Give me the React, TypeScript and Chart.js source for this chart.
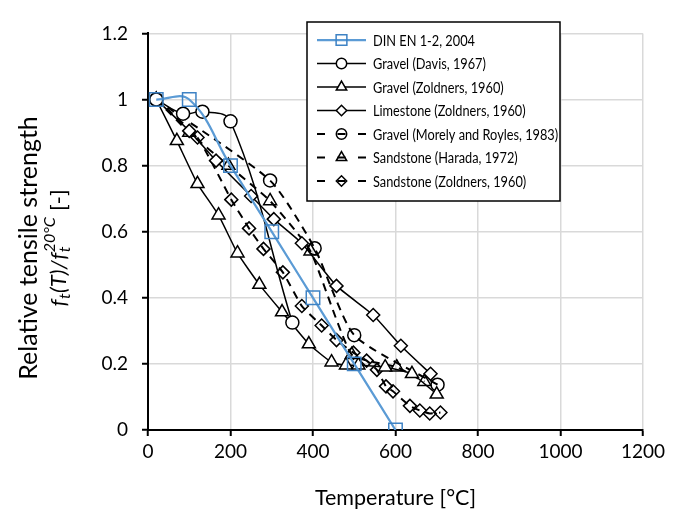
import React, { useEffect, useRef } from 'react';
import { Chart, registerables } from 'chart.js';
import { drawPoint } from 'chart.js/helpers';

Chart.register(...registerables);

const FONT = "Lato, 'Open Sans', sans-serif";

// ---- axes ----
const xTicks = [0, 200, 400, 600, 800, 1000, 1200];
const yTicks = [0, 0.2, 0.4, 0.6, 0.8, 1, 1.2];

// ---- series ----
const dinTemp = [20, 100, 200, 300, 400, 500, 600];
const dinVal = [1, 1, 0.8, 0.6, 0.4, 0.2, 0];

const davisTemp = [20, 85, 132, 200, 350];
const davisVal = [1, 0.957, 0.963, 0.934, 0.325];

const gravelZolTemp = [20, 70, 120, 171, 217, 270, 325, 390, 445, 480, 510, 575, 640, 700];
const gravelZolVal = [1, 0.875, 0.745, 0.65, 0.535, 0.44, 0.357, 0.26, 0.205, 0.196, 0.196, 0.19, 0.17, 0.108];

const limeTemp = [20, 100, 165, 250, 305, 373, 457, 546, 613, 685];
const limeVal = [1, 0.905, 0.815, 0.708, 0.638, 0.565, 0.436, 0.348, 0.255, 0.17];

const morelyTemp = [20, 296, 404, 500, 702];
const morelyVal = [1, 0.755, 0.55, 0.287, 0.137];

const haradaTemp = [20, 100, 195, 296, 394, 494, 603, 670];
const haradaVal = [1, 0.9, 0.8, 0.693, 0.541, 0.228, 0.19, 0.146];

const sandZolTemp = [20, 120, 202, 245, 280, 327, 373, 421, 457, 498, 530, 555, 577, 594, 635, 659, 683, 709];
const sandZolVal = [1, 0.885, 0.697, 0.61, 0.548, 0.477, 0.375, 0.316, 0.272, 0.234, 0.21, 0.182, 0.132, 0.117, 0.073, 0.059, 0.05, 0.053];

const labels = [
  'DIN EN 1-2, 2004',
  'Gravel (Davis, 1967)',
  'Gravel (Zoldners, 1960)',
  'Limestone (Zoldners, 1960)',
  'Gravel (Morely and Royles, 1983)',
  'Sandstone (Harada, 1972)',
  'Sandstone (Zoldners, 1960)',
];

const pts = (xs: number[], ys: number[]) => xs.map((x, i) => ({ x, y: ys[i] }));

const BLUE = '#5B9BD5';
const BLUE_MK = '#3E82C4';
const DASH = [8, 6];

function blackSeries(label: string, data: any[], style: string, radius: number, dashed: boolean, tension: number) {
  return {
    label,
    data,
    showLine: true,
    borderColor: '#000',
    borderWidth: dashed ? 2 : 1.5,
    borderDash: dashed ? DASH : [],
    pointStyle: style,
    pointRadius: radius,
    pointHoverRadius: radius,
    pointBorderColor: '#000',
    pointBorderWidth: 1.5,
    pointBackgroundColor: dashed ? 'rgba(0,0,0,0)' : '#fff',
    tension,
  };
}

const legendPlugin = {
  id: 'boxLegend',
  afterDatasetsDraw(chart: any) {
    const { ctx } = chart;
    const bx = 299, by = 14, bw = 253, bh = 179;
    ctx.save();
    ctx.fillStyle = '#fff';
    ctx.fillRect(bx, by, bw, bh);
    ctx.strokeStyle = '#000';
    ctx.lineWidth = 1.5;
    ctx.strokeRect(bx, by, bw, bh);
    chart.data.datasets.forEach((ds: any, i: number) => {
      const cy = by + 18 + i * 23.5;
      const x1 = bx + 10, x2 = bx + 59, mx = bx + 34.5;
      ctx.save();
      ctx.strokeStyle = ds.borderColor;
      ctx.lineWidth = ds.borderWidth;
      if (ds.borderDash && ds.borderDash.length) {
        ctx.setLineDash([8, 12.5]);
      } else {
        ctx.setLineDash([]);
      }
      ctx.beginPath();
      ctx.moveTo(x1, cy);
      ctx.lineTo(x2, cy);
      ctx.stroke();
      ctx.setLineDash([]);
      ctx.strokeStyle = ds.pointBorderColor;
      ctx.fillStyle = ds.pointBackgroundColor;
      ctx.lineWidth = ds.pointBorderWidth;
      drawPoint(ctx, { pointStyle: ds.pointStyle, radius: ds.pointRadius * 0.8, rotation: 0, borderWidth: ds.pointBorderWidth }, mx, cy);
      ctx.restore();
      ctx.save();
      ctx.translate(bx + 66, cy + 1);
      ctx.scale(0.88, 1);
      ctx.fillStyle = '#000';
      ctx.font = `14.5px ${FONT}`;
      ctx.textBaseline = 'middle';
      ctx.textAlign = 'left';
      ctx.fillText(ds.label, 0, 0);
      ctx.restore();
    });
    ctx.restore();
  },
};

const yTitlePlugin = {
  id: 'yTitle',
  afterDraw(chart: any) {
    const { ctx } = chart;
    const cyMid = 240;
    ctx.save();
    // line 1
    ctx.translate(21, cyMid);
    ctx.rotate(-Math.PI / 2);
    ctx.fillStyle = '#000';
    ctx.textBaseline = 'middle';
    ctx.textAlign = 'center';
    ctx.font = `25px ${FONT}`;
    ctx.fillText('Relative tensile strength', 0, 0);
    ctx.restore();

    // line 2: rich text f_t(T)/f_t^{20°C} [-]
    const size = 22;
    const small = 16;
    const segs = [
      { t: 'f', it: true, sh: 0, adv: true, sz: size },
      { t: 't', it: true, sh: 6, adv: true, sz: small },
      { t: '(T)/', it: true, sh: 0, adv: true, sz: size },
      { t: 'f', it: true, sh: 0, adv: true, sz: size },
      { t: 't', it: true, sh: 6, adv: false, sz: small },
      { t: '20°C', it: true, sh: -9, adv: true, sz: small },
      { t: ' [-]', it: false, sh: 0, adv: true, sz: size },
    ];
    const fontOf = (s: any) => `${s.it ? 'italic ' : ''}${s.sz}px ${FONT}`;
    let total = 0;
    segs.forEach((s) => {
      ctx.font = fontOf(s);
      if (s.adv) total += ctx.measureText(s.t).width + (s.it ? 0.5 : 0);
    });
    ctx.save();
    ctx.translate(51, cyMid);
    ctx.rotate(-Math.PI / 2);
    ctx.fillStyle = '#000';
    ctx.textBaseline = 'middle';
    ctx.textAlign = 'left';
    let x = -total / 2;
    segs.forEach((s) => {
      ctx.font = fontOf(s);
      ctx.fillText(s.t, x, s.sh);
      if (s.adv) x += ctx.measureText(s.t).width + (s.it ? 0.5 : 0);
    });
    ctx.restore();
  },
};

export default function App() {
  const ref = useRef<HTMLCanvasElement | null>(null);
  useEffect(() => {
    if (!ref.current) return;
    const datasets: any[] = [
      {
        label: labels[0],
        data: pts(dinTemp, dinVal),
        showLine: true,
        borderColor: BLUE,
        borderWidth: 2.25,
        pointStyle: 'rect',
        pointRadius: 9.5,
        pointHoverRadius: 9.5,
        pointBorderColor: BLUE_MK,
        pointBorderWidth: 1.5,
        pointBackgroundColor: 'rgba(0,0,0,0)',
        tension: 0.4,
      },
      blackSeries(labels[1], pts(davisTemp, davisVal), 'circle', 6.5, false, 0.4),
      blackSeries(labels[2], pts(gravelZolTemp, gravelZolVal), 'triangle', 7.5, false, 0.15),
      blackSeries(labels[3], pts(limeTemp, limeVal), 'rectRot', 6.5, false, 0.15),
      blackSeries(labels[4], pts(morelyTemp, morelyVal), 'circle', 6.5, true, 0.2),
      blackSeries(labels[5], pts(haradaTemp, haradaVal), 'triangle', 7.5, true, 0.15),
      blackSeries(labels[6], pts(sandZolTemp, sandZolVal), 'rectRot', 6.5, true, 0.15),
    ];
    const chart = new Chart(ref.current, {
      type: 'scatter',
      data: { datasets },
      plugins: [legendPlugin, yTitlePlugin],
      options: {
        animation: false,
        responsive: false,
        maintainAspectRatio: false,
        layout: { padding: { top: 12, right: 22, left: 0, bottom: 0 } },
        plugins: { legend: { display: false }, tooltip: { enabled: false } },
        scales: {
          x: {
            type: 'linear',
            min: xTicks[0],
            max: xTicks[xTicks.length - 1],
            afterBuildTicks: (s: any) => { s.ticks = xTicks.map((v) => ({ value: v })); },
            afterFit: (s: any) => { s.height = 81; },
            grid: { color: '#d9d9d9', lineWidth: 1.5, drawTicks: true, tickLength: 6, tickColor: '#000', tickWidth: 2 },
            border: { color: '#000', width: 2 },
            ticks: { color: '#000', font: { family: FONT, size: 19 }, padding: 4, maxRotation: 0, callback: (v: any) => String(v) },
            title: { display: true, text: 'Temperature [°C]', color: '#000', font: { family: FONT, size: 21.5 }, padding: { top: 4, bottom: 0 } },
          },
          y: {
            type: 'linear',
            min: yTicks[0],
            max: yTicks[yTicks.length - 1],
            afterBuildTicks: (s: any) => { s.ticks = yTicks.map((v) => ({ value: v })); },
            afterFit: (s: any) => { s.width = 140; },
            grid: { color: '#d9d9d9', lineWidth: 1.5, drawTicks: true, tickLength: 6, tickColor: '#000', tickWidth: 2 },
            border: { color: '#000', width: 2 },
            ticks: { color: '#000', font: { family: FONT, size: 19 }, padding: 14, callback: (v: any) => String(v) },
          },
        },
      },
    } as any);
    return () => chart.destroy();
  }, []);
  return <canvas ref={ref} width={661} height={503} style={{ width: 661, height: 503, display: 'block' }} />;
}
